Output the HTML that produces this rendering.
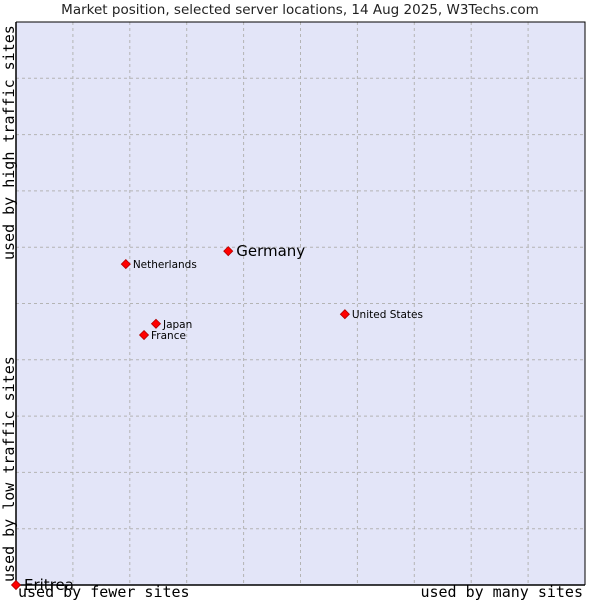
<!DOCTYPE html>
<html><head><meta charset="utf-8"><style>
body{margin:0;background:#fff;width:600px;height:600px;overflow:hidden}
svg{display:block}
</style></head><body>
<svg id="c" width="600" height="600" xmlns="http://www.w3.org/2000/svg">
<text x="300" y="14" text-anchor="middle" font-family="DejaVu Sans, sans-serif" font-size="13.5" fill="#222">Market position, selected server locations, 14 Aug 2025, W3Techs.com</text>
<rect x="16" y="22" width="569" height="563" fill="#e3e5f8"/>
<g id="grid"></g>
<path d="M16 22 V585 H585" fill="none" stroke="#000" stroke-width="1.5"/>
<path d="M16 22 H585 V585" fill="none" stroke="#000" stroke-width="1"/>
<text transform="translate(14,260) rotate(-90)" font-family="DejaVu Sans Mono, monospace" font-size="15" fill="#000">used by high traffic sites</text>
<text transform="translate(14,582) rotate(-90)" font-family="DejaVu Sans Mono, monospace" font-size="15" fill="#000">used by low traffic sites</text>
<text x="18" y="597" font-family="DejaVu Sans Mono, monospace" font-size="15" fill="#000">used by fewer sites</text>
<text x="583" y="597" text-anchor="end" font-family="DejaVu Sans Mono, monospace" font-size="15" fill="#000">used by many sites</text>
<g id="pts"></g>
</svg>
<script>
const names=["Germany","Netherlands","Japan","France","United States","Eritrea"];
const xVals=[37.3,19.3,24.6,22.5,57.8,0];
const yVals=[59.3,57.0,46.4,44.4,48.1,0];
const big=[true,false,false,false,false,true];
const NS="http://www.w3.org/2000/svg";
const X0=16,X1=585,Y0=585,Y1=22;
const sx=v=>X0+v/100*(X1-X0), sy=v=>Y0-v/100*(Y0-Y1);
const grid=document.getElementById('grid');
for(let i=1;i<10;i++){
 const v=document.createElementNS(NS,'line');
 v.setAttribute('x1',sx(i*10));v.setAttribute('x2',sx(i*10));v.setAttribute('y1',Y1);v.setAttribute('y2',Y0);
 v.setAttribute('stroke','#b4b4b4');v.setAttribute('stroke-dasharray','3,3');
 
 
 grid.appendChild(v);
 const h=document.createElementNS(NS,'line');
 h.setAttribute('y1',sy(i*10));h.setAttribute('y2',sy(i*10));h.setAttribute('x1',X0);h.setAttribute('x2',X1);
 h.setAttribute('stroke','#b4b4b4');h.setAttribute('stroke-dasharray','3,3');
 
 
 grid.appendChild(h);
}
const pts=document.getElementById('pts');
names.forEach((n,i)=>{
 const x=sx(xVals[i]),y=sy(yVals[i]);
 const g=document.createElementNS(NS,'g');
 
 
 const d=document.createElementNS(NS,'path');
 d.setAttribute('d',`M${x} ${y-4.5}L${x+4.5} ${y}L${x} ${y+4.5}L${x-4.5} ${y}Z`);
 d.setAttribute('fill','#ff0000');d.setAttribute('stroke','#b00000');d.setAttribute('stroke-width','0.8');
 g.appendChild(d);
 const t=document.createElementNS(NS,'text');
 t.setAttribute('x',x+(big[i]?8:7));t.setAttribute('y',y+(big[i]?5:4));
 t.setAttribute('font-family','DejaVu Sans, sans-serif');
 t.setAttribute('font-size',big[i]?'15':'10.5');t.setAttribute('fill','#000');
 
 
 t.textContent=n;
 g.appendChild(t);
 pts.appendChild(g);
});
</script>
</body></html>
